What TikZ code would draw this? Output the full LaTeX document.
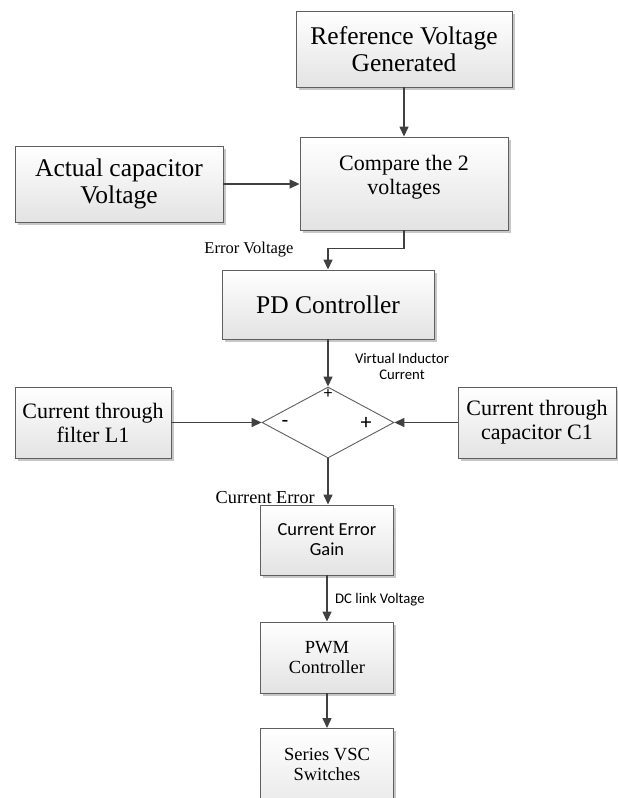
\documentclass[tikz,border=0pt]{standalone}
\usepackage{fontspec}
\setmainfont{Liberation Serif}
\newfontfamily\calfont{Carlito}
\usetikzlibrary{arrows.meta,shapes.geometric,shadows}
\definecolor{edgec}{HTML}{5F5F5F}
\definecolor{arrc}{HTML}{404040}
\begin{document}
\begin{tikzpicture}[x=1pt,y=-1pt,
  box/.style={draw=edgec, line width=0.9pt, top color=white, bottom color=black!11,
    drop shadow={shadow xshift=2.5pt,shadow yshift=-2.5pt,fill=black!22,opacity=1},
    inner sep=0pt, align=center},
  txt/.style={inner sep=0pt, align=center},
  conn/.style={draw=arrc, line width=1.4pt, -{Triangle[length=10pt,width=9pt]}},
  big/.style={font=\fontsize{25.5}{27.5}\selectfont},
  mid/.style={font=\fontsize{22}{24}\selectfont},
  sml/.style={font=\fontsize{18.5}{20}\selectfont},
  cal/.style={font=\calfont\fontsize{18.4}{20}\selectfont},
  lab/.style={inner sep=0pt, align=center, font=\calfont\fontsize{14.7}{16}\selectfont}
]
\useasboundingbox (0,0) rectangle (618,798);
\fill[white] (0,0) rectangle (618,798);

% boxes
\node[box, big, minimum width=216pt, minimum height=76pt] (ref) at (404,49) {Reference Voltage\\Generated};
\node[box, minimum width=208pt, minimum height=93pt] (cmp) at (404,183.5) {};
\node[txt, mid] (cmptxt) at (404,177) {Compare the 2\\voltages};
\node[box, big, minimum width=208pt, minimum height=76pt] (act) at (119,184) {Actual capacitor\\Voltage};
\node[box, big, minimum width=212pt, minimum height=69pt] (pd) at (328,304.5) {PD Controller};
\node[diamond, draw=edgec, fill=white, line width=0.9pt, minimum width=132pt, minimum height=71pt, inner sep=0pt] (sum) at (328,422.5) {};
\node[box, mid, minimum width=156pt, minimum height=71pt] (l1) at (93,422.5) {Current through\\filter L1};
\node[box, mid, minimum width=158pt, minimum height=71pt] (c1) at (537,422.5) {Current through\\capacitor C1};
\node[box, cal, minimum width=133pt, minimum height=70pt] (ceg) at (327,540) {Current Error\\Gain};
\node[box, sml, minimum width=133pt, minimum height=71pt] (pwm) at (327,657.5) {PWM\\Controller};
\node[box, anchor=north, minimum width=133pt, minimum height=100pt] (vsc) at (327,728) {};
\node[txt, sml] (vsctxt) at (327,764) {Series VSC\\Switches};

% signs in the summing junction
\node[txt, font=\calfont\fontsize{17}{18}\selectfont] (ptop) at (328,394) {+};
\node[txt, font=\calfont\fontsize{22}{24}\selectfont] (pright) at (366,423) {+};
\node[txt, font=\calfont\fontsize{22}{24}\selectfont] (mleft) at (285,424) {-};

% connectors
\draw[conn] (ref.south) -- (ref.south |- cmp.north);
\draw[conn] (act.east) -- (act.east -| cmp.west);
\draw[conn] (cmp.south) -- ++(0,18) -| (pd.north);
\draw[conn] (pd.south) -- (pd.south |- sum.north);
\draw[conn] (l1.east |- sum.west) -- (sum.west);
\draw[conn] (c1.west |- sum.east) -- (sum.east);
\draw[conn] (sum.south) -- (sum.south |- ceg.north);
\draw[conn] (ceg.south) -- (ceg.south |- pwm.north);
\draw[conn] (pwm.south) -- (pwm.south |- vsc.north);

% connector labels
\node[txt, font=\fontsize{16.5}{18}\selectfont] (lerr) at (249,250) {Error Voltage};
\node[lab] (lvic) at (402,366) {Virtual Inductor\\Current};
\node[txt, font=\fontsize{18.3}{20}\selectfont, anchor=east] (lce) at (315,498) {Current Error};
\node[lab, anchor=west] (ldc) at (335,600) {DC link Voltage};
\end{tikzpicture}
\end{document}
